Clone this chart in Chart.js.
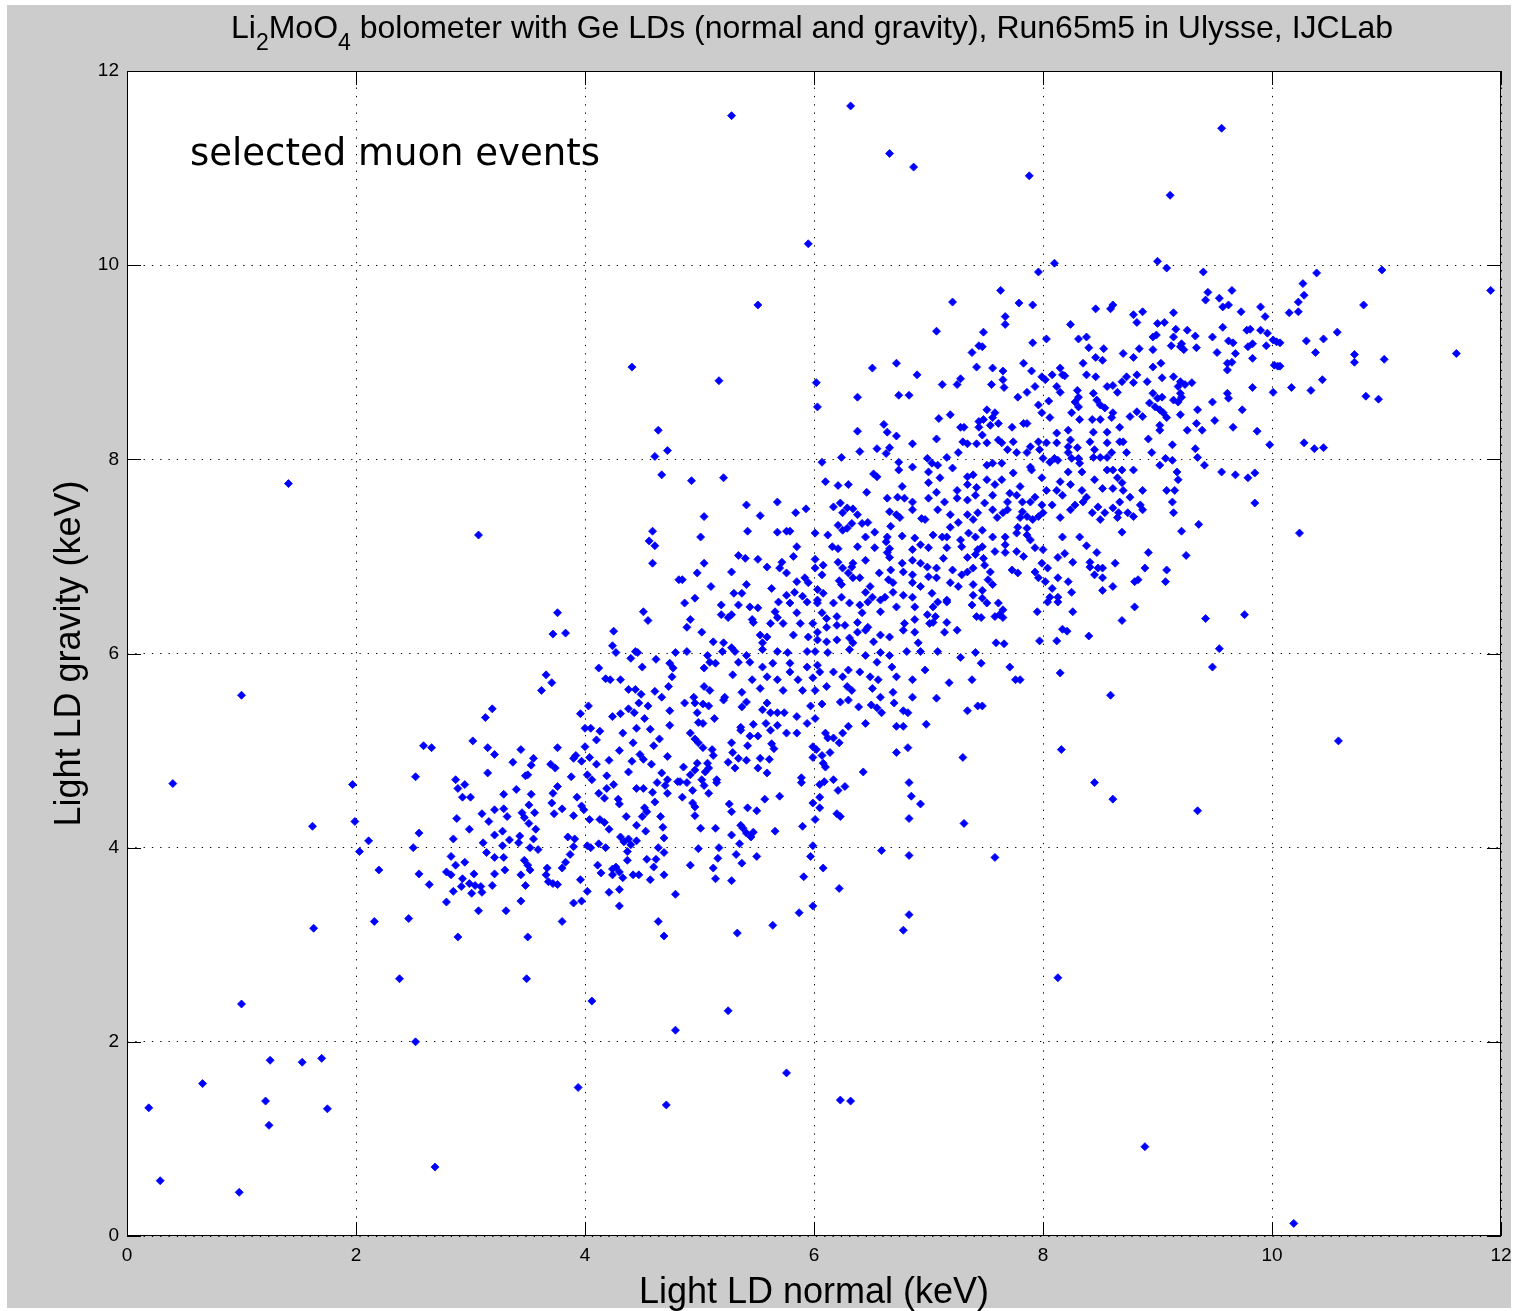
<!DOCTYPE html>
<html>
<head>
<meta charset="utf-8">
<script src="https://cdn.jsdelivr.net/npm/chart.js@4"></script>
<style>
  html, body { margin: 0; padding: 0; background: #fff; }
  canvas { display: block; }
</style>
</head>
<body>
<canvas id="myChart" width="1514" height="1311"></canvas>
<script>
// axis ticks (keV)
const xTickValues = [0, 2, 4, 6, 8, 10, 12];
const yTickValues = [0, 2, 4, 6, 8, 10, 12];

const titleParts = [
    ['Li', false], ['2', true], ['MoO', false], ['4', true],
    [' bolometer with Ge LDs (normal and gravity), Run65m5 in Ulysse, IJCLab', false]
];
const xTitle = 'Light LD normal (keV)';
const yTitle = 'Light LD gravity (keV)';
const noteText = 'selected muon events';

// [normal, gravity] in keV
const outerEvents = [
[0.19,1.32],[0.29,0.57],[0.40,4.66],[0.66,1.57],[0.98,0.45],[1.00,5.57],[1.00,2.39],[1.21,1.39],[1.25,1.81],[1.24,1.14],
[1.41,7.75],[1.53,1.79],[1.62,4.22],[1.63,3.17],[1.70,1.83],[1.75,1.31],[1.97,4.65],[1.99,4.27],[2.03,3.96],[2.11,4.07],
[2.16,3.24],[2.20,3.77],[2.38,2.65],[2.52,2.00],[2.69,0.71],[2.89,3.08],[3.07,7.22],[3.50,3.08],[3.49,2.65],[3.94,1.53],
[4.06,2.42],[4.41,8.95],[5.17,8.81],[5.28,11.54],[5.51,9.59],[4.71,1.35],[4.79,2.12],[5.25,2.32],[5.76,1.68],[5.95,10.22],
[6.32,11.64],[6.66,11.15],[6.87,11.01],[7.88,10.92],[9.56,11.41],[9.11,10.72],[9.00,10.04],[11.91,9.74],[11.61,9.09],[10.98,9.03],
[10.96,9.95],[10.80,9.59],[10.82,8.65],[10.93,8.62],[10.72,9.08],[10.58,5.10],[10.24,7.24],[9.76,6.40],[9.35,4.38],[8.89,0.92],
[10.19,0.13],[8.61,4.50],[8.45,4.67],[8.13,2.66],[8.16,5.01],[7.58,3.90],[7.31,4.25],[6.83,3.31],[6.78,3.15],[6.59,3.97],
[6.23,1.40],[6.32,1.39],[6.22,3.58],[5.64,3.20],[5.33,3.12],[4.69,3.09],[8.59,5.57]
];

const lowBand = [
[4.64,8.30],[4.72,8.09],[4.61,8.03],[4.67,7.84],[4.59,7.26],[4.56,7.16],[4.61,7.11],[4.59,6.93],[4.82,6.76],
[3.76,6.42],[3.72,6.20],[3.83,6.21],[4.25,6.23],[4.51,6.43],[4.55,6.34],[4.24,6.08],[4.27,6.01],[4.44,6.02],[4.46,6.01],
[4.40,5.95],[4.79,6.01],[4.62,5.94],[4.50,5.86],[4.74,5.90],[4.77,5.85],[4.12,5.85],[4.18,5.74],[4.22,5.73],[4.31,5.73],
[4.76,5.76],[3.66,5.78],[3.71,5.70],[3.62,5.62],[4.38,5.63],[4.44,5.63],[4.49,5.58],[4.61,5.61],[4.67,5.55],[4.73,5.66],
[4.47,5.49],[4.55,5.46],[4.03,5.46],[3.96,5.38],[4.24,5.35],[4.31,5.38],[4.38,5.43],[4.43,5.39],[4.52,5.33],[4.74,5.41],
[3.19,5.43],[3.13,5.34],[4.00,5.23],[4.05,5.23],[4.13,5.20],[4.33,5.18],[4.45,5.23],[4.57,5.22],[4.74,5.26],[2.59,5.05],
[2.66,5.03],[3.02,5.10],[3.15,5.03],[3.21,4.96],[3.44,5.01],[3.76,5.03],[4.00,5.04],[4.10,5.11],[4.65,5.12],[4.42,5.08],
[4.30,5.00],[4.60,5.05],[4.48,4.96],[4.72,4.94],[3.55,4.92],[3.37,4.88],[3.53,4.85],[3.70,4.86],[3.74,4.82],[3.90,4.92],
[3.92,4.95],[3.97,4.89],[4.04,4.93],[4.10,4.86],[4.21,4.90],[4.41,4.89],[4.51,4.91],[4.58,4.86],[2.52,4.73],[3.15,4.77],
[3.48,4.74],[3.50,4.75],[3.88,4.73],[4.02,4.75],[4.06,4.70],[4.19,4.74],[4.38,4.78],[4.67,4.77],[4.72,4.70],[2.87,4.70],
[2.89,4.61],[2.95,4.65],[3.40,4.60],[3.29,4.55],[3.53,4.55],[3.72,4.56],[3.76,4.63],[4.12,4.56],[4.19,4.61],[4.25,4.65],
[4.45,4.61],[4.51,4.61],[4.63,4.67],[4.70,4.64],[4.59,4.57],[4.72,4.56],[4.81,4.68],[2.93,4.52],[3.00,4.52],[3.51,4.44],
[3.71,4.46],[3.93,4.52],[3.97,4.43],[4.17,4.51],[4.29,4.50],[4.30,4.45],[4.61,4.47],[4.52,4.41],[2.88,4.30],[3.10,4.35],
[3.21,4.39],[3.29,4.40],[3.32,4.32],[3.16,4.27],[3.45,4.36],[3.47,4.31],[3.56,4.36],[3.51,4.25],[3.57,4.19],[3.73,4.35],
[3.80,4.40],[3.90,4.33],[3.99,4.39],[4.04,4.29],[4.13,4.29],[4.17,4.26],[4.21,4.19],[4.36,4.32],[4.45,4.23],[4.50,4.32],
[4.54,4.37],[4.66,4.32],[4.68,4.21],[4.53,4.17],[2.99,4.19],[2.55,4.15],[2.85,4.09],[3.11,4.05],[3.21,4.13],[3.28,4.17],
[3.34,4.08],[3.43,4.12],[3.55,4.09],[3.42,4.05],[3.52,4.00],[3.59,3.98],[3.28,4.02],[3.85,4.11],[3.91,4.09],[3.90,4.01],
[4.02,4.02],[4.05,4.00],[4.12,4.04],[4.18,4.00],[4.31,4.11],[4.34,4.06],[4.38,4.09],[4.45,4.07],[4.40,4.03],[4.64,4.00],
[4.69,4.10],[2.50,4.00],[2.83,3.91],[3.14,3.95],[3.21,3.90],[3.29,3.90],[3.47,3.87],[3.87,3.93],[4.37,3.96],[4.37,3.87],
[4.54,3.88],[4.62,3.88],[4.69,3.95],[2.87,3.82],[2.95,3.85],[3.50,3.82],[3.52,3.77],[3.83,3.85],[3.80,3.79],[3.67,3.79],
[4.60,3.80],[2.55,3.73],[2.79,3.75],[2.83,3.72],[2.93,3.68],[3.03,3.73],[3.21,3.73],[3.30,3.77],[3.44,3.72],[3.66,3.72],
[4.11,3.82],[4.14,3.74],[4.24,3.78],[4.27,3.80],[4.30,3.75],[4.42,3.72],[4.47,3.72],[4.33,3.69],[4.69,3.72],[4.24,3.72],
[2.64,3.62],[2.92,3.60],[2.99,3.63],[3.04,3.61],[3.09,3.60],[3.19,3.61],[3.48,3.61],[3.68,3.65],[3.72,3.63],[3.76,3.62],
[3.96,3.67],[4.02,3.55],[4.57,3.67],[2.85,3.55],[3.01,3.53],[3.10,3.54],[4.21,3.54],[4.30,3.57],[4.79,3.52],[2.79,3.44],
[3.44,3.45],[3.90,3.43],[3.97,3.45],[4.30,3.40],[3.07,3.35],[3.31,3.35],[2.46,3.27],[3.80,3.24],[4.64,3.24]
];

const midLower = [
[4.87,5.49],[4.96,5.49],[5.03,5.48],[5.08,5.46],[5.21,5.52],[5.37,5.45],[5.41,5.50],[5.55,5.42],[5.59,5.49],[5.62,5.39],
[5.68,5.39],[5.74,5.39],[4.98,5.39],[4.99,5.29],[5.03,5.28],[5.13,5.33],[5.36,5.24],[5.47,5.27],[5.58,5.28],[5.62,5.21],
[5.68,5.26],[5.76,5.18],[5.85,5.35],[5.85,5.18],[5.94,5.28],[5.97,5.46],[6.07,5.48],[6.01,5.33],[6.23,5.50],[6.30,5.52],
[6.39,5.45],[6.50,5.47],[6.55,5.44],[6.59,5.39],[6.70,5.49],[6.78,5.41],[6.82,5.39],[6.45,5.28],[6.72,5.25],[6.78,5.25],
[6.98,5.27],[7.34,5.41],[7.43,5.46],[6.30,5.25],[6.25,5.18],[6.10,5.18],[6.12,5.13],[6.17,5.13],[6.22,5.08],[4.92,5.18],
[4.96,5.12],[4.99,5.08],[5.03,5.03],[5.11,5.01],[5.12,4.95],[5.28,5.08],[5.36,5.21],[5.44,5.15],[5.51,5.15],[5.42,5.05],
[5.29,4.98],[5.34,4.92],[5.25,4.88],[5.41,4.90],[5.53,4.92],[5.61,4.91],[5.65,5.02],[5.63,5.07],[5.99,5.04],[6.02,5.01],
[5.99,4.93],[6.07,4.95],[6.14,4.98],[6.08,4.87],[6.10,4.83],[6.72,4.98],[6.82,5.03],[7.30,4.93],[4.86,4.83],[4.98,4.87],
[4.96,4.80],[5.07,4.87],[5.08,4.82],[5.05,4.78],[4.92,4.75],[5.31,4.82],[5.51,4.82],[5.59,4.77],[6.43,4.78],[4.83,4.68],
[4.89,4.67],[4.94,4.59],[5.02,4.70],[5.04,4.64],[5.08,4.56],[5.15,4.70],[5.15,4.67],[5.89,4.72],[5.89,4.67],[6.05,4.65],
[6.09,4.68],[6.17,4.70],[6.21,4.59],[6.27,4.63],[6.83,4.67],[4.85,4.52],[5.57,4.50],[5.70,4.53],[6.05,4.52],[6.85,4.53],
[4.94,4.46],[4.96,4.42],[5.26,4.45],[5.28,4.37],[5.42,4.41],[5.50,4.38],[5.99,4.46],[6.05,4.41],[6.93,4.45],[4.96,4.33],
[6.20,4.35],[6.23,4.32],[6.01,4.29],[6.83,4.30],[5.01,4.20],[5.14,4.20],[5.36,4.23],[5.38,4.20],[5.41,4.15],[5.47,4.16],
[5.45,4.11],[5.28,4.13],[5.66,4.17],[5.90,4.22],[5.35,4.04],[4.99,3.99],[5.17,4.00],[5.99,4.02],[5.32,3.93],[5.16,3.89],
[5.50,3.91],[5.97,3.91],[6.83,3.92],[4.92,3.82],[5.37,3.84],[5.12,3.79],[6.08,3.79],[5.14,3.68],[5.28,3.66],[5.91,3.70],
[5.87,3.33],[5.99,3.40]
];

const midUpper = [
[7.21,9.62],[7.07,9.32],[7.38,9.10],[7.44,9.17],[7.42,8.95],[6.51,8.94],[6.72,8.99],[6.90,8.87],[7.12,8.77],[7.25,8.77],
[7.28,8.83],[6.02,8.79],[6.03,8.54],[6.38,8.64],[6.74,8.66],[6.83,8.66],[7.19,8.46],[7.09,8.42],[6.38,8.29],[6.61,8.36],
[6.64,8.28],[6.72,8.24],[6.86,8.16],[7.07,8.21],[7.28,8.33],[7.31,8.33],[7.30,8.18],[7.34,8.16],[7.42,8.16],[6.40,8.08],
[6.55,8.11],[6.66,8.12],[7.26,8.07],[7.44,8.33],[7.44,8.39],
[4.93,7.78],[5.21,7.81],[6.07,7.97],[6.24,8.02],[6.63,8.06],[6.10,7.77],[6.21,7.73],[6.30,7.74],[6.46,7.66],[6.52,7.85],
[6.55,7.82],[6.74,7.97],[6.74,7.89],[6.86,7.92],[6.99,8.01],[7.03,7.96],[7.00,7.87],[7.08,7.94],[7.16,8.02],[7.21,7.91],
[7.10,7.81],[7.00,7.76],[6.77,7.72],[7.07,7.66],[7.25,7.68],[7.34,7.82],[7.39,7.84],[7.34,7.74],[7.42,7.71],[6.73,7.61],
[6.64,7.60],[6.79,7.60],[6.86,7.56],[7.00,7.60],[7.14,7.56],[7.25,7.60],[7.34,7.58],[7.41,7.63],[5.41,7.53],[5.68,7.56],
[5.93,7.49],[5.84,7.45],[5.53,7.42],[5.04,7.41],[6.17,7.51],[6.23,7.55],[6.29,7.50],[6.34,7.49],[6.25,7.45],[6.38,7.43],
[6.66,7.46],[6.72,7.43],[6.75,7.40],[6.86,7.48],[6.94,7.39],[6.97,7.38],[7.08,7.48],[7.19,7.43],[7.26,7.35],[7.34,7.43],
[7.39,7.38],[7.43,7.45],[6.42,7.34],[6.47,7.35],[6.21,7.32],[6.25,7.27],[6.29,7.29],[6.33,7.34],[6.67,7.31],[5.42,7.26],
[5.68,7.25],[5.76,7.26],[5.79,7.26],[6.01,7.24],[6.12,7.22],[6.53,7.25],[6.45,7.20],[6.64,7.20],[6.77,7.21],[6.88,7.19],
[6.93,7.12],[7.04,7.22],[7.12,7.20],[7.19,7.30],[7.16,7.20],[7.28,7.17],[7.35,7.24],[7.41,7.20],[5.01,7.20],[6.16,7.10],
[6.21,7.08],[6.38,7.10],[6.53,7.09],[6.63,7.15],[6.66,7.08],[6.86,7.07],[7.00,7.09],[7.16,7.09],[7.29,7.10],[7.43,7.07],
[5.85,7.10],[5.82,7.00],[5.34,7.01],[5.40,6.98],[5.51,6.97],[5.72,6.94],[5.59,6.89],[5.04,6.93],[6.01,6.97],[6.08,6.91],
[6.21,6.94],[6.34,6.93],[6.45,6.96],[6.64,7.04],[6.66,6.99],[6.77,6.93],[6.86,6.96],[6.93,6.93],[6.99,6.89],[7.07,6.88],
[7.13,6.98],[7.34,6.99],[7.41,7.02],[4.98,6.83],[5.28,6.84],[5.70,6.88],[5.76,6.83],[6.01,6.88],[6.07,6.81],[6.25,6.88],
[6.30,6.83],[6.33,6.89],[6.57,6.83],[6.67,6.86],[6.78,6.84],[6.86,6.81],[7.00,6.79],[7.21,6.86],[7.29,6.81],[7.34,6.84],
[7.39,6.88],[4.85,6.76],[5.10,6.69],[5.41,6.71],[5.63,6.67],[5.85,6.74],[5.92,6.78],[5.95,6.73],[6.22,6.75],[6.24,6.71],
[6.34,6.78],[6.40,6.78],[6.49,6.69],[6.65,6.76],[6.69,6.73],[6.86,6.73],[6.93,6.69],[7.07,6.78],[7.19,6.73],[7.26,6.69],
[7.39,6.71],[5.30,6.62],[5.37,6.62],[5.76,6.60],[5.83,6.63],[5.90,6.59],[6.03,6.66],[6.08,6.62],[6.03,6.55],[6.24,6.58],
[6.45,6.63],[6.51,6.58],[6.62,6.58],[6.69,6.63],[6.78,6.60],[6.86,6.58],[7.03,6.62],[7.08,6.53],[7.16,6.55],[7.39,6.60],
[4.87,6.52],[4.96,6.57],[5.19,6.50],[5.34,6.50],[5.44,6.48],[5.51,6.47],[5.69,6.53],[5.79,6.52],[5.94,6.53],[6.03,6.52],
[6.17,6.52],[6.31,6.52],[6.40,6.50],[6.47,6.53],[6.58,6.55],[6.72,6.48],[6.88,6.48],[7.04,6.48],[7.16,6.53],[7.38,6.50],
[5.19,6.40],[5.25,6.37],[5.28,6.40],[5.46,6.35],[5.66,6.43],[5.68,6.37],[5.85,6.42],[6.07,6.42],[6.11,6.36],[6.20,6.38],
[6.27,6.29],[6.38,6.32],[6.42,6.42],[6.47,6.27],[6.58,6.43],[6.88,6.35],[6.99,6.40],[7.06,6.38],[7.04,6.32],[7.16,6.32],
[7.42,6.38],[4.92,6.35],[4.89,6.27],[5.02,6.22],[5.47,6.32],[5.53,6.19],[5.62,6.31],[5.73,6.31],[5.88,6.31],[5.99,6.31],
[6.03,6.22],[6.11,6.27],[6.20,6.29],[6.38,6.22],[6.45,6.24],[6.58,6.19],[6.66,6.17],[6.79,6.31],[6.78,6.24],[6.88,6.22],
[7.01,6.31],[7.14,6.22],[7.25,6.24],[5.12,6.12],[5.21,6.11],[5.28,6.06],[5.55,6.11],[5.59,6.17],[5.82,6.19],[5.95,6.17],
[6.03,6.14],[6.11,6.12],[6.20,6.14],[6.31,6.16],[6.34,6.11],[6.52,6.12],[6.91,6.11],[4.89,6.02],[5.07,5.98],[5.20,6.02],
[5.31,6.02],[5.41,5.98],[5.55,6.04],[5.68,6.02],[5.77,6.01],[5.94,6.02],[6.01,6.02],[6.12,6.01],[6.31,6.04],[6.45,5.98],
[6.58,6.01],[6.66,5.98],[6.81,6.02],[6.93,6.02],[7.08,6.02],[7.28,5.96],[7.41,6.01],[5.04,5.85],[5.09,5.91],[5.14,5.90],
[5.34,5.91],[5.44,5.91],[5.55,5.86],[5.64,5.90],[5.79,5.90],[5.94,5.86],[6.03,5.88],[6.05,5.81],[6.17,5.81],[6.30,5.83],
[6.55,5.91],[6.68,5.86],[6.97,5.83],[5.29,5.78],[5.46,5.73],[5.59,5.76],[5.68,5.73],[5.79,5.81],[5.86,5.73],[5.99,5.75],
[6.25,5.76],[6.40,5.81],[6.49,5.76],[6.56,5.73],[6.72,5.76],[6.86,5.73],[7.18,5.70],[7.38,5.73],[5.04,5.66],[5.09,5.62],
[5.22,5.55],[5.37,5.60],[5.53,5.64],[5.73,5.62],[5.90,5.62],[6.01,5.62],[6.11,5.66],[6.29,5.66],[6.33,5.62],[6.51,5.64],
[6.58,5.55],[6.69,5.60],[6.86,5.55],[7.07,5.54],[4.95,5.55]
];

const highLower = [
[7.49,7.55],[7.56,7.48],[7.60,7.40],[7.65,7.45],[7.69,7.48],[7.69,7.56],[7.82,7.56],[7.89,7.56],[7.82,7.46],[7.80,7.40],
[7.86,7.41],[7.91,7.38],[7.96,7.41],[8.00,7.45],[7.99,7.53],[8.08,7.53],[8.15,7.40],[8.24,7.48],[8.28,7.53],[8.35,7.56],
[8.43,7.45],[8.50,7.38],[8.54,7.45],[8.48,7.51],[8.61,7.50],[8.67,7.56],[8.66,7.45],[8.65,7.40],[8.74,7.45],[8.79,7.41],
[8.85,7.53],[8.87,7.48],[9.13,7.56],[9.14,7.45],[9.36,7.33],[9.21,7.26],[8.69,7.25],[9.85,7.55],[7.47,7.27],[7.47,7.10],
[7.48,6.98],[7.49,6.91],[7.56,7.20],[7.58,7.05],[7.67,7.20],[7.67,7.12],[7.67,7.04],[7.77,7.24],[7.78,7.30],[7.86,7.29],
[7.86,7.22],[7.89,7.17],[7.77,7.05],[7.83,7.00],[7.93,7.09],[8.00,7.07],[8.17,7.20],[8.32,7.20],[8.38,7.11],[8.13,6.99],
[8.19,7.03],[8.26,6.94],[8.41,6.94],[8.47,7.04],[8.63,6.93],[8.92,7.04],[9.25,7.01],[7.54,6.84],[7.52,6.76],[7.56,6.71],
[7.73,6.86],[7.78,6.83],[7.93,6.84],[7.96,6.78],[7.99,6.93],[8.04,6.88],[8.02,6.74],[8.13,6.78],[8.22,6.74],[8.41,6.89],
[8.45,6.81],[8.48,6.88],[8.52,6.88],[8.52,6.78],[8.89,6.88],[8.80,6.74],[8.83,6.76],[9.08,6.86],[9.07,6.74],[7.47,6.65],
[7.47,6.57],[7.51,6.52],[7.61,6.52],[7.65,6.45],[7.62,6.40],[7.58,6.38],[7.65,6.37],[7.46,6.37],[8.08,6.67],[8.06,6.58],
[8.04,6.53],[8.13,6.58],[8.13,6.53],[8.25,6.63],[8.26,6.43],[7.95,6.43],[8.52,6.65],[8.61,6.69],[8.80,6.48],[8.69,6.34],
[9.42,6.36],[8.17,6.25],[8.21,6.23],[8.40,6.18],[8.12,6.13],[7.97,6.13],[7.59,6.11],[7.66,6.10],[9.54,6.05],[7.46,5.90],
[7.71,5.86],[7.76,5.73],[7.80,5.73],[8.15,5.80],[9.48,5.86],[7.47,5.46]
];

const highUpper = [
[8.10,10.02],[7.96,9.93],[9.08,9.97],[9.40,9.93],[7.63,9.74],[7.79,9.61],[7.91,9.59],[7.67,9.47],[7.67,9.39],[7.48,9.31],
[7.47,9.16],[7.91,9.20],[8.03,9.24],[8.24,9.39],[8.46,9.55],[8.59,9.55],[8.61,9.59],[8.79,9.49],[8.82,9.41],[8.87,9.52],
[9.14,9.51],[9.44,9.72],[9.42,9.64],[9.54,9.66],[9.57,9.57],[9.62,9.59],[9.65,9.74],[9.73,9.52],[9.90,9.57],[9.94,9.47],
[9.00,9.40],[9.06,9.41],[8.96,9.26],[8.99,9.28],[9.16,9.34],[9.14,9.26],[9.26,9.33],[9.33,9.27],[9.57,9.36],[9.48,9.26],
[9.62,9.22],[9.66,9.20],[9.78,9.33],[9.81,9.34],[9.90,9.33],[9.96,9.30],[10.01,9.23],[10.04,9.21],[8.31,9.24],[8.38,9.26],
[8.40,9.15],[8.53,9.14],[8.46,9.05],[8.52,9.02],[8.35,8.99],[8.70,9.09],[8.79,9.05],[8.84,9.14],[8.96,9.13],[8.96,8.95],
[9.03,8.99],[9.12,9.17],[9.20,9.16],[9.23,9.13],[9.21,9.19],[9.34,9.15],[9.52,9.10],[9.68,9.09],[9.79,9.16],[9.83,9.19],
[9.95,9.17],[9.83,9.04],[9.61,8.99],[9.65,9.00],[9.61,8.92],[10.02,8.97],[10.05,8.96],[7.56,8.94],[7.65,8.91],[7.65,8.82],
[7.55,8.77],[7.66,8.74],[7.83,8.99],[7.90,8.91],[7.99,8.85],[8.02,8.82],[8.08,8.87],[8.15,8.94],[8.17,8.87],[8.19,8.86],
[7.93,8.75],[7.86,8.69],[7.78,8.64],[7.96,8.56],[7.99,8.48],[8.05,8.60],[8.06,8.43],[8.12,8.75],[8.15,8.69],[8.38,8.87],
[8.46,8.85],[8.56,8.75],[8.61,8.76],[8.65,8.69],[8.69,8.80],[8.73,8.85],[8.79,8.79],[8.82,8.87],[8.91,8.80],[9.04,8.84],
[9.14,8.85],[9.20,8.80],[9.18,8.75],[9.24,8.77],[9.30,8.79],[9.20,8.68],[8.30,8.71],[8.31,8.64],[8.28,8.59],[8.31,8.54],
[8.25,8.48],[8.32,8.41],[8.44,8.68],[8.47,8.61],[8.50,8.56],[8.54,8.53],[8.61,8.48],[8.60,8.43],[8.67,8.33],[8.96,8.68],
[9.00,8.63],[9.04,8.64],[8.93,8.58],[8.98,8.54],[9.02,8.51],[9.05,8.48],[9.08,8.43],[9.02,8.35],[9.02,8.30],[9.14,8.61],
[9.18,8.59],[9.21,8.64],[9.20,8.46],[8.82,8.49],[8.87,8.44],[8.76,8.44],[8.92,8.21],[9.48,8.59],[9.50,8.40],[9.61,8.68],
[9.62,8.63],[9.74,8.51],[9.83,8.74],[10.01,8.69],[9.35,8.51],[9.34,8.37],[9.39,8.30],[9.66,8.33],[9.87,8.29],[9.98,8.15],
[9.26,8.30],[9.13,8.15],[9.33,8.11],[9.35,8.02],[9.41,7.94],[8.95,8.07],[9.07,8.01],[9.13,7.99],[9.17,7.87],[9.18,7.79],
[9.02,7.94],[9.08,7.68],[9.15,7.68],[8.87,7.68],[9.56,7.87],[9.68,7.84],[9.79,7.81],[9.85,7.86],[7.48,8.41],[7.51,8.51],
[7.58,8.48],[7.56,8.43],[7.61,8.37],[7.54,8.35],[7.73,8.33],[7.83,8.37],[7.86,8.37],[7.47,8.25],[7.51,8.17],[7.61,8.20],
[7.64,8.17],[7.69,8.10],[7.74,8.18],[7.77,8.07],[7.86,8.07],[7.89,8.13],[7.90,7.89],[7.96,8.18],[7.97,8.10],[8.00,8.01],
[8.03,8.17],[8.12,8.27],[8.12,8.17],[8.06,7.97],[8.10,8.01],[8.13,7.99],[8.22,8.30],[8.24,8.20],[8.22,8.13],[8.22,8.07],
[8.25,8.01],[8.30,8.12],[8.31,8.01],[8.32,7.96],[8.43,8.41],[8.44,8.28],[8.50,8.41],[8.41,8.18],[8.45,8.10],[8.44,8.02],
[8.56,8.28],[8.56,8.17],[8.60,8.07],[8.67,8.18],[8.70,8.18],[8.73,8.07],[8.50,8.02],[8.56,8.02],[7.51,7.94],[7.56,7.96],
[7.64,7.96],[7.74,7.86],[7.89,7.92],[7.99,7.81],[8.15,7.77],[8.22,7.87],[8.34,7.87],[8.45,7.79],[8.56,7.89],[8.61,7.89],
[8.65,7.81],[8.69,7.89],[8.69,7.76],[8.79,7.89],[7.51,7.79],[7.58,7.74],[7.64,7.79],[7.80,7.72],[7.71,7.65],[7.56,7.63],
[7.77,7.63],[7.93,7.61],[8.03,7.68],[8.12,7.68],[8.17,7.63],[8.24,7.74],[8.34,7.68],[8.38,7.61],[8.52,7.70],[8.61,7.70],
[8.70,7.68],[8.76,7.61]
];

const farRight = [
[10.39,9.92],[10.27,9.81],[10.28,9.69],[10.23,9.62],[10.15,9.51],[10.23,9.52],[10.57,9.31],[10.30,9.22],[10.45,9.24],[10.07,9.20],
[10.38,9.10],[10.72,9.00],[10.07,8.96],[10.17,8.74],[10.34,8.71],[10.44,8.82],[10.28,8.17],[10.37,8.11],[10.45,8.12]
];

const allEvents = [].concat(outerEvents, lowBand, midLower, midUpper, highLower, highUpper, farRight)
    .map(function (p) { return {x: p[0], y: p[1]}; });

const PLOT = {left: 127, top: 71, right: 1501, bottom: 1236};

const matlabFrame = {
    id: 'matlabFrame',
    beforeDraw: function (chart) {
        const c = chart.ctx;
        const a = chart.chartArea;
        c.save();
        c.fillStyle = '#ffffff';
        c.fillRect(0, 0, chart.width, chart.height);
        c.fillStyle = '#cccccc';
        c.fillRect(7, 5, chart.width - 10, chart.height - 8);
        c.fillStyle = '#ffffff';
        c.fillRect(a.left, a.top, a.right - a.left, a.bottom - a.top);
        c.restore();
    },
    afterDraw: function (chart) {
        const c = chart.ctx;
        const a = chart.chartArea;
        const xs = chart.scales.x, ys = chart.scales.y;
        const tl = 14;
        c.save();
        c.strokeStyle = '#000';
        c.lineWidth = 1;
        c.strokeRect(a.left + 0.5, a.top + 0.5, a.right - a.left - 1, a.bottom - a.top - 1);
        c.beginPath();
        xTickValues.forEach(function (v) {
            const px = Math.round(xs.getPixelForValue(v)) + 0.5;
            c.moveTo(px, a.bottom); c.lineTo(px, a.bottom - tl);
            c.moveTo(px, a.top); c.lineTo(px, a.top + tl);
        });
        yTickValues.forEach(function (v) {
            const py = Math.round(ys.getPixelForValue(v)) + 0.5;
            c.moveTo(a.left, py); c.lineTo(a.left + tl, py);
            c.moveTo(a.right, py); c.lineTo(a.right - tl, py);
        });
        c.stroke();

        // title with subscripts
        c.fillStyle = '#000';
        c.textBaseline = 'alphabetic';
        c.textAlign = 'left';
        const big = '32px "Liberation Sans", Arial, sans-serif';
        const small = '23px "Liberation Sans", Arial, sans-serif';
        let total = 0;
        titleParts.forEach(function (p) {
            c.font = p[1] ? small : big;
            total += c.measureText(p[0]).width;
        });
        let tx = 812 - total / 2;
        titleParts.forEach(function (p) {
            c.font = p[1] ? small : big;
            c.fillText(p[0], tx, p[1] ? 50 : 38);
            tx += c.measureText(p[0]).width;
        });

        // axis titles
        c.font = '36px "Liberation Sans", Arial, sans-serif';
        c.textAlign = 'center';
        c.fillText(xTitle, (a.left + a.right) / 2, 1303);
        c.save();
        c.translate(80, (a.top + a.bottom) / 2);
        c.rotate(-Math.PI / 2);
        c.fillText(yTitle, 0, 0);
        c.restore();

        // note inside the axes
        c.font = '37px "DejaVu Sans", Verdana, sans-serif';
        c.textAlign = 'left';
        c.fillText(noteText, 190, 165);
        c.restore();
    }
};

const tickFont = {family: '"Liberation Sans", Arial, sans-serif', size: 19};

const ctx = document.getElementById('myChart');
const chartc = new Chart(ctx, {
    type: 'scatter',
    data: {
        datasets: [{
            data: allEvents,
            pointStyle: 'rectRot',
            pointRadius: 4,
            pointBorderWidth: 0.8,
            backgroundColor: '#0000ff',
            borderColor: '#0000ff'
        }]
    },
    options: {
        responsive: false,
        animation: false,
        devicePixelRatio: 1,
        layout: {
            padding: {left: 0, top: PLOT.top, right: 1514 - PLOT.right, bottom: 0}
        },
        plugins: {
            legend: {display: false},
            tooltip: {enabled: false},
            title: {display: false}
        },
        scales: {
            x: {
                type: 'linear',
                min: 0,
                max: 12,
                afterBuildTicks: function (scale) {
                    scale.ticks = xTickValues.map(function (v) { return {value: v}; });
                },
                afterFit: function (scale) {
                    scale.height = 1311 - PLOT.bottom;
                    scale.paddingLeft = 0;
                    scale.paddingRight = 0;
                },
                ticks: {font: tickFont, color: '#000', padding: 8, maxRotation: 0},
                grid: {color: '#000', lineWidth: 1, drawTicks: false},
                border: {display: false, dash: [1.3, 7]}
            },
            y: {
                type: 'linear',
                min: 0,
                max: 12,
                afterBuildTicks: function (scale) {
                    scale.ticks = yTickValues.map(function (v) { return {value: v}; });
                },
                afterFit: function (scale) {
                    scale.width = PLOT.left;
                    scale.paddingTop = 0;
                    scale.paddingBottom = 0;
                },
                ticks: {font: tickFont, color: '#000', padding: 8},
                grid: {color: '#000', lineWidth: 1, drawTicks: false},
                border: {display: false, dash: [1.3, 7]}
            }
        }
    },
    plugins: [matlabFrame]
});
chartc.update();
</script>
</body>
</html>
